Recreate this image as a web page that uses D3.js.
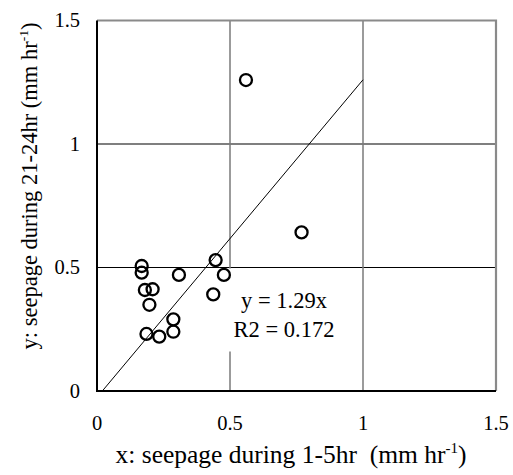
<!DOCTYPE html>
<html>
<head>
<meta charset="utf-8">
<script src="https://cdn.jsdelivr.net/npm/d3@7"></script>
<style>
  html, body { margin: 0; padding: 0; background: #fff; }
  svg { display: block; }
  text { font-family: "Liberation Serif", "Times New Roman", serif; fill: #000; }
</style>
</head>
<body>
<svg id="chart" width="513" height="475"></svg>
<script>
// ---- data ----
const xValues = [0.560, 0.769, 0.168, 0.168, 0.308, 0.180, 0.209, 0.197, 0.446, 0.477, 0.437, 0.287, 0.287, 0.186, 0.234];
const yValues = [1.259, 0.642, 0.506, 0.479, 0.470, 0.409, 0.412, 0.349, 0.530, 0.470, 0.391, 0.290, 0.240, 0.231, 0.220];
const trendX = [0.02, 1.0];
const trendY = [0.0, 1.26];
const xTicks = [0, 0.5, 1, 1.5];
const yTicks = [0, 0.5, 1, 1.5];
const xTickLabels = ["0", "0.5", "1", "1.5"];
const yTickLabels = ["0", "0.5", "1", "1.5"];
const equationLines = ["y = 1.29x", "R2 = 0.172"];

// ---- layout ----
const svg = d3.select("#chart");
const x = d3.scaleLinear().domain([0, 1.5]).range([97, 496]);
const y = d3.scaleLinear().domain([0, 1.5]).range([391, 20.5]);

// horizontal gridlines (black)
svg.append("g").selectAll("line").data(yTicks.filter(d => d > 0 && d < 1.5)).join("line")
  .attr("x1", x(0)).attr("x2", x(1.5))
  .attr("y1", d => y(d)).attr("y2", d => y(d))
  .attr("stroke", "#000").attr("stroke-width", 1.2);

// vertical gridlines (gray)
svg.append("g").selectAll("line").data(xTicks.filter(d => d > 0 && d < 1.5)).join("line")
  .attr("x1", d => x(d)).attr("x2", d => x(d))
  .attr("y1", y(0)).attr("y2", y(1.5))
  .attr("stroke", "#7a7a7a").attr("stroke-width", 1.5);

// top / right border (gray)
svg.append("path")
  .attr("d", `M${x(0)},${y(1.5)}H${x(1.5)}V${y(0)}`)
  .attr("fill", "none").attr("stroke", "#8a8a8a").attr("stroke-width", 2.2);

// left / bottom axes (black)
svg.append("path")
  .attr("d", `M${x(0)},${y(1.5)}V${y(0)}H${x(1.5)}`)
  .attr("fill", "none").attr("stroke", "#000").attr("stroke-width", 2);

// equation label with white box
svg.append("rect")
  .attr("x", 226).attr("y", y(0.5) + 1).attr("width", 116).attr("height", 83)
  .attr("fill", "#fff");
svg.append("g").selectAll("text").data(equationLines).join("text")
  .attr("x", 284).attr("y", (d, i) => 307.5 + i * 29.5)
  .attr("text-anchor", "middle")
  .attr("font-size", 22.5)
  .text(d => d);

// trendline
svg.append("line")
  .attr("x1", x(trendX[0])).attr("y1", y(trendY[0]))
  .attr("x2", x(trendX[1])).attr("y2", y(trendY[1]))
  .attr("stroke", "#000").attr("stroke-width", 1);

// points
svg.append("g").selectAll("circle").data(xValues.map((v, i) => [v, yValues[i]])).join("circle")
  .attr("cx", d => x(d[0])).attr("cy", d => y(d[1]))
  .attr("r", 6)
  .attr("fill", "none").attr("stroke", "#000").attr("stroke-width", 2.3);

// tick labels
svg.append("g").selectAll("text").data(xTicks).join("text")
  .attr("x", d => x(d)).attr("y", 430)
  .attr("text-anchor", "middle").attr("font-size", 20.5)
  .text((d, i) => xTickLabels[i]);
svg.append("g").selectAll("text").data(yTicks).join("text")
  .attr("x", 80).attr("y", d => y(d) + 6.8)
  .attr("text-anchor", "end").attr("font-size", 20.5)
  .text((d, i) => yTickLabels[i]);

// axis titles
const xt = svg.append("text").attr("x", 291).attr("y", 463)
  .attr("text-anchor", "middle").attr("font-size", 25.5).attr("xml:space", "preserve");
xt.append("tspan").text("x: seepage during 1-5hr  (mm hr");
xt.append("tspan").attr("font-size", 15).attr("dy", -10).text("-1");
xt.append("tspan").attr("dy", 10).text(")");

const yt = svg.append("text")
  .attr("transform", "translate(37,186) rotate(-90)")
  .attr("text-anchor", "middle").attr("font-size", 22.5);
yt.append("tspan").text("y: seepage during 21-24hr (mm hr");
yt.append("tspan").attr("font-size", 13.5).attr("dy", -9).text("-1");
yt.append("tspan").attr("dy", 9).text(")");
</script>
</body>
</html>
